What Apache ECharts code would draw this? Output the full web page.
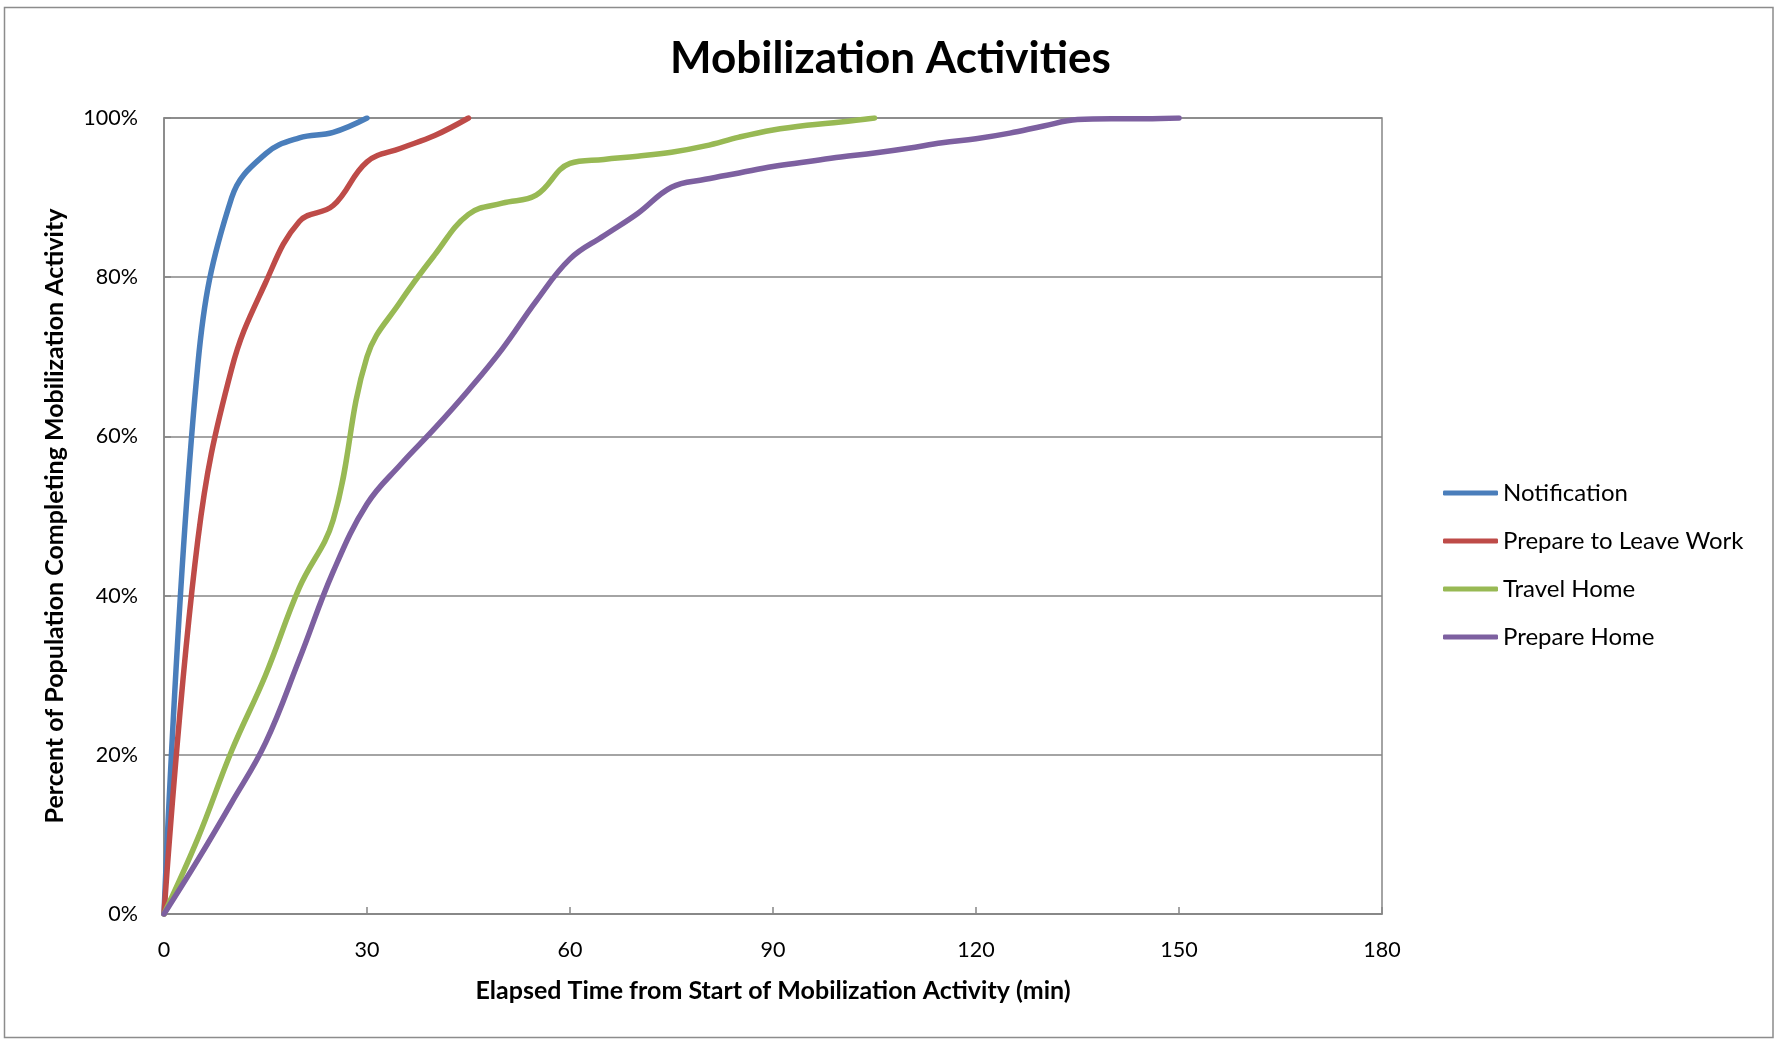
<!DOCTYPE html>
<html>
<head>
<meta charset="utf-8">
<title>Mobilization Activities</title>
<script src="https://cdn.jsdelivr.net/npm/echarts@6/dist/echarts.min.js"></script>
<style>
  html, body { margin: 0; padding: 0; background: #ffffff; }
  #chart { width: 1781px; height: 1039px; }
</style>
</head>
<body>
<div id="chart"></div>
<script>
// Elapsed time (min), sampled every 5 minutes
const minutes = [0, 5, 10, 15, 20, 25, 30, 35, 40, 45, 50, 55, 60, 65, 70, 75,
  80, 85, 90, 95, 100, 105, 110, 115, 120, 125, 130, 135, 140, 145, 150];

// Cumulative percent of population completing each activity
const notification = [0, 69, 90, 95.5, 97.5, 98.2, 100];
const prepareToLeaveWork = [0, 47, 68.5, 79.3, 87, 89, 94.5, 96.2, 97.8, 100];
const travelHome = [0, 9.5, 20.5, 30, 41, 49.5, 70, 77, 82.8, 87.9, 89.3, 90.3,
  94.3, 94.8, 95.2, 95.7, 96.5, 97.6, 98.5, 99.1, 99.5, 100];
const prepareHome = [0, 6.8, 14, 21.5, 32, 43, 51.5, 56.5, 61, 65.8, 71, 77,
  82.3, 85.2, 88, 91.3, 92.3, 93.1, 93.9, 94.5, 95.1, 95.6, 96.2, 96.9, 97.4,
  98.1, 99, 99.8, 99.9, 99.9, 100];

const seriesNames = ['Notification', 'Prepare to Leave Work', 'Travel Home', 'Prepare Home'];
const seriesValues = [notification, prepareToLeaveWork, travelHome, prepareHome];
const seriesColors = ['#4A7EBB', '#BE4B48', '#98B954', '#7D60A0'];

const xTicks = { min: 0, max: 180, interval: 30 };
const yTicks = { min: 0, max: 100, interval: 20 };

const FONT = 'Lato, "Open Sans", sans-serif';
const GRID_GRAY = '#868686';

const chart = echarts.init(document.getElementById('chart'), null, { renderer: 'canvas' });

const option = {
  backgroundColor: '#ffffff',
  animation: false,
  title: {
    text: 'Mobilization Activities',
    left: 'center',
    top: 32,
    textStyle: { fontFamily: FONT, fontWeight: 'bold', fontSize: 44, color: '#000000' }
  },
  legend: {
    orient: 'vertical',
    left: 1438,
    top: 476,
    itemWidth: 55,
    itemHeight: 5,
    itemGap: 24,
    icon: 'roundRect',
    textStyle: { fontFamily: FONT, fontSize: 24, color: '#000000', lineHeight: 24 },
    data: seriesNames
  },
  grid: {
    left: 164,
    top: 118,
    right: 399,
    bottom: 125,
    show: true,
    borderColor: GRID_GRAY,
    borderWidth: 1.5,
    containLabel: false
  },
  xAxis: {
    type: 'value',
    min: xTicks.min,
    max: xTicks.max,
    interval: xTicks.interval,
    name: 'Elapsed Time from Start of Mobilization Activity (min)',
    nameLocation: 'middle',
    nameGap: 64,
    nameTextStyle: { fontFamily: FONT, fontWeight: 'bold', fontSize: 25, color: '#000000' },
    axisLine: { show: true, lineStyle: { color: GRID_GRAY, width: 1.5 } },
    axisTick: { show: true, inside: true, length: 7, lineStyle: { color: GRID_GRAY, width: 1.5 } },
    axisLabel: { fontFamily: FONT, fontSize: 21.5, color: '#000000', margin: 25 },
    splitLine: { show: false }
  },
  yAxis: {
    type: 'value',
    min: yTicks.min,
    max: yTicks.max,
    interval: yTicks.interval,
    name: 'Percent of Population Completing Mobilization Activity',
    nameLocation: 'middle',
    nameGap: 97,
    nameRotate: 90,
    nameTextStyle: { fontFamily: FONT, fontWeight: 'bold', fontSize: 25, color: '#000000' },
    axisLine: { show: true, lineStyle: { color: GRID_GRAY, width: 1.5 } },
    axisTick: { show: true, inside: true, length: 7, lineStyle: { color: GRID_GRAY, width: 1.5 } },
    axisLabel: { fontFamily: FONT, fontSize: 21.5, color: '#000000', margin: 26, formatter: '{value}%' },
    splitLine: { show: true, lineStyle: { color: GRID_GRAY, width: 1.5 } }
  },
  series: seriesNames.map((name, i) => ({
    name: name,
    type: 'line',
    smooth: 0.4,
    symbol: 'none',
    clip: true,
    color: seriesColors[i],
    lineStyle: { width: 5.5, color: seriesColors[i], cap: 'round', join: 'round' },
    data: seriesValues[i].map((v, k) => [minutes[k], v])
  })),
  graphic: [{
    type: 'rect',
    silent: true,
    shape: { x: 4.5, y: 7.5, width: 1768.5, height: 1030 },
    style: { fill: 'none', stroke: '#8c8c8c', lineWidth: 1.5 }
  }]
};

chart.setOption(option);
</script>
</body>
</html>
